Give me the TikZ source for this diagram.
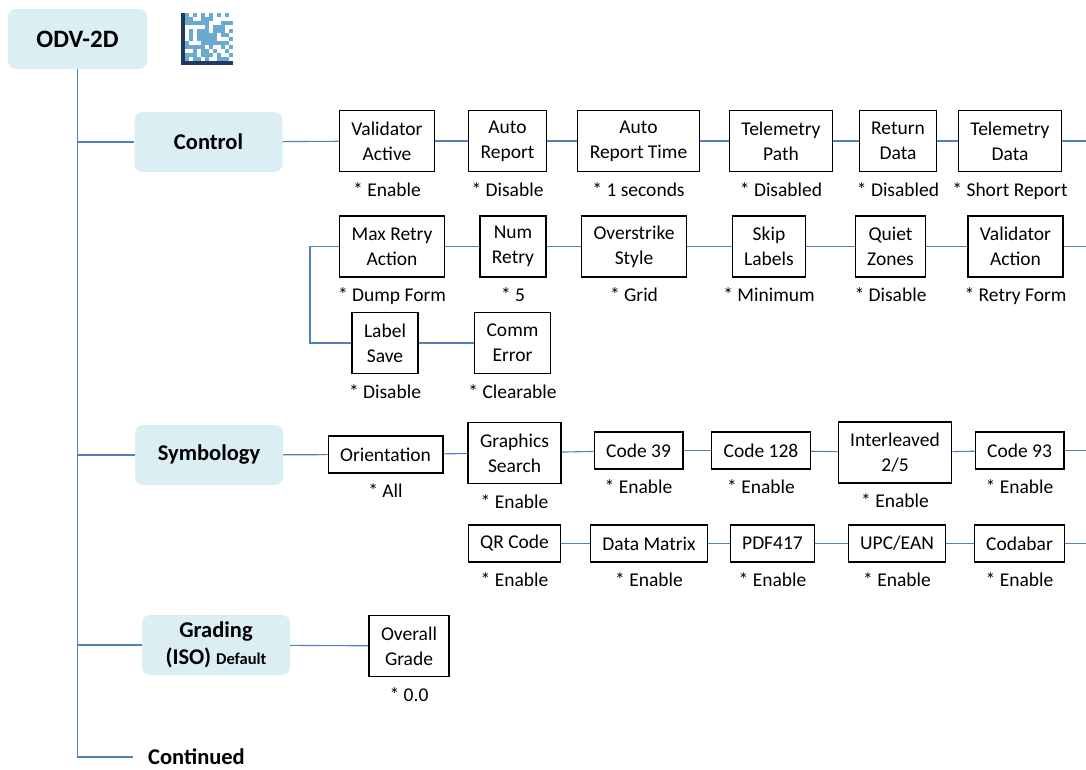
\documentclass[tikz,border=0pt]{standalone}
\usepackage{fontspec}
\setmainfont{Carlito}
\usetikzlibrary{positioning}

\definecolor{catfill}{RGB}{219,238,244}
\definecolor{linkblue}{RGB}{79,129,189}
\definecolor{dmblue}{RGB}{107,170,207}
\definecolor{dmnavy}{RGB}{31,56,100}

\tikzset{
    cat/.style={fill=catfill, rounded corners=8pt, minimum width=148pt, minimum height=60pt, align=center, font=\bfseries\fontsize{22.5}{27}\selectfont},
    opt/.style={draw, line width=1.2pt, inner xsep=12pt, minimum height=61pt, align=center, font=\fontsize{19.5}{25}\selectfont},
    opt1/.style={opt, minimum height=37pt},
    dflt/.style={inner sep=0pt, outer sep=0pt, text height=14pt, text depth=4pt, font=\fontsize{19.5}{25}\selectfont},
    link/.style={linkblue, line width=1.1pt},
}

\begin{document}
\begin{tikzpicture}[x=1pt, y=-1pt]
    \useasboundingbox (0,0) rectangle (1086,769);
    \coordinate (rim) at (1086,0);

    \node[cat, minimum width=139pt, font=\bfseries\fontsize{25}{30}\selectfont] (odv) at (77.5,39) {ODV-2D};
    \fill[dmblue] (185,13) rectangle (233,61);
    \pgfmathsetseed{2024}
    \foreach \i in {0,...,11}
        \foreach \j in {0,...,11} {
            \pgfmathtruncatemacro\bit{\j==0 ? mod(\i,2) : (\i==11 ? mod(\j,2) : (rnd<0.42))}
            \ifnum\bit=1 \fill[white] (185+4*\i,13+4*\j) rectangle ++(4,4); \fi
        }
    \fill[dmnavy] (181,13) rectangle (185,65);
    \fill[dmnavy] (181,61) rectangle (233,65);

    \node[cat] (ctrl) at (208.5,142) {Control};
    \node[cat] (sym) at (209,455) {Symbology};
    \node[cat] (grd) at (216,645) {Grading\\(ISO) {\fontsize{16.5}{20}\selectfont Default}};
    \node[inner sep=0pt, anchor=west, font=\bfseries\fontsize{22.5}{27}\selectfont] (cont) at (148,757) {Continued};

    \node[opt] (va)  at (387,141)   {Validator\\Active};
    \node[opt] (ar)  at (507.5,141) {Auto\\Report};
    \node[opt] (art) at (638.5,141) {Auto\\Report Time};
    \node[opt] (tp)  at (781,141)   {Telemetry\\Path};
    \node[opt] (rd)  at (898,141)   {Return\\Data};
    \node[opt] (td)  at (1010,141)  {Telemetry\\Data};

    \node[opt] (mra) at (392,246.5)    {Max Retry\\Action};
    \node[opt] (nr)  at (513,246.5)    {Num\\Retry};
    \node[opt] (os)  at (634,246.5)    {Overstrike\\Style};
    \node[opt] (sl)  at (769,246.5)    {Skip\\Labels};
    \node[opt] (qz)  at (890.5,246.5)  {Quiet\\Zones};
    \node[opt] (vac) at (1015.5,246.5) {Validator\\Action};

    \node[opt] (ls) at (385,343)   {Label\\Save};
    \node[opt] (ce) at (512.5,343) {Comm\\Error};

    \node[opt1] (ori)  at (385.5,454.5) {Orientation};
    \node[opt]  (gs)   at (514.5,453)   {Graphics\\Search};
    \node[opt1] (c39)  at (638.5,450.5) {Code 39};
    \node[opt1] (c128) at (761,450.5)   {Code 128};
    \node[opt]  (i25)  at (895,452.5)   {Interleaved\\2/5};
    \node[opt1] (c93)  at (1019.5,450.5) {Code 93};

    \node[opt1] (qr)  at (514.5,543.5)  {QR Code};
    \node[opt1] (dm)  at (649,543.5)    {Data Matrix};
    \node[opt1] (pdf) at (772.5,543.5)  {PDF417};
    \node[opt1] (upc) at (897,543.5)    {UPC/EAN};
    \node[opt1] (cb)  at (1019.5,543.5) {Codabar};

    \node[opt] (og) at (409,646) {Overall\\Grade};

    \foreach \n/\t in {va/Enable, ar/Disable, art/1 seconds, tp/Disabled, rd/Disabled, td/Short Report,
        mra/Dump Form, nr/5, os/Grid, sl/Minimum, qz/Disable, vac/Retry Form, ls/Disable, ce/Clearable,
        ori/All, gs/Enable, c39/Enable, c128/Enable, i25/Enable, c93/Enable,
        qr/Enable, dm/Enable, pdf/Enable, upc/Enable, cb/Enable, og/0.0}
        \node[dflt, below=10pt of \n] (\n-d) {* \t};

    \draw[link, shorten >=15pt] (odv) |- (cont);
    \foreach \c in {ctrl, sym, grd}
        \draw[link] (odv.south |- \c) -- (\c);
    \foreach \a/\b in {ctrl/va, va/ar, ar/art, art/tp, tp/rd, rd/td,
        mra/nr, nr/os, os/sl, sl/qz, qz/vac, ls/ce,
        sym/ori, ori/gs, gs/c39, c39/c128, c128/i25, i25/c93,
        qr/dm, dm/pdf, pdf/upc, upc/cb, grd/og}
        \draw[link] (\a) -- (\b);
    \foreach \e in {td, vac, c93, cb}
        \draw[link] (\e) -- (\e -| rim);
    \draw[link] (mra.west) -- ++(-29,0) |- (ls);
\end{tikzpicture}
\end{document}
